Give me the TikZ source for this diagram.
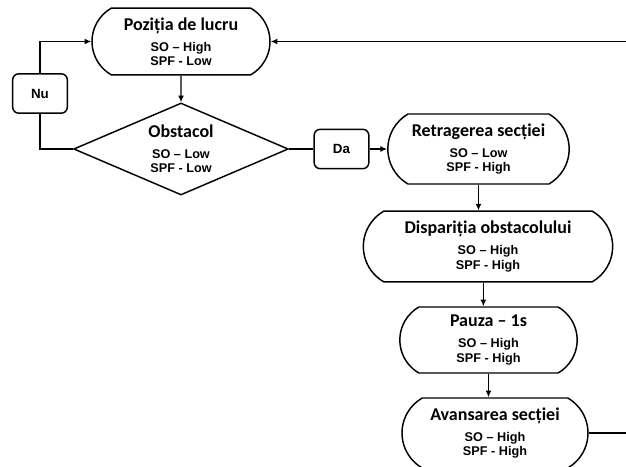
\documentclass[tikz,border=0pt]{standalone}
\usepackage{fontspec}
\usetikzlibrary{arrows.meta,positioning,shapes.geometric,shapes.misc}
\newfontfamily\calfont{Carlito}
\newfontfamily\arialfont{Liberation Sans}
\newcommand{\titf}{\calfont\bfseries\fontsize{13.5}{16}\selectfont}
\newcommand{\subf}{\arialfont\bfseries\fontsize{9.5}{10.8}\selectfont}
\newcommand{\stagetxt}[3]{{\titf #1}\\[5pt]#2\\#3}
\tikzset{
  stage/.style={draw, rounded rectangle, rounded rectangle arc length=120, line width=1.1pt, align=center, font=\subf, inner sep=0pt},
  cond/.style={draw, diamond, aspect=2.34, line width=1.1pt, align=center, font=\subf, inner sep=0pt, minimum width=161pt, minimum height=69pt},
  ans/.style={draw, rectangle, rounded corners=4.5pt, line width=1.1pt, minimum width=41pt, minimum height=29.5pt, font=\arialfont\bfseries\fontsize{10}{12}\selectfont},
  arr/.style={-{Latex[length=5pt,width=4.5pt]}, line width=1.1pt},
  ln/.style={line width=1.1pt},
}
\begin{document}
\begin{tikzpicture}[x=0.75pt, y=-0.75pt]
\clip (0,0) rectangle (626,467);

\node[stage, minimum width=133.5pt, minimum height=50pt] (pos) at (181,41.5) {\stagetxt{Poziția de lucru}{SO – High}{SPF - Low}};
\node[cond] (obst) at (181,149) {\stagetxt{Obstacol}{SO – Low}{SPF - Low}};
\node[ans] (nu) at (40,93.5) {Nu};
\node[ans] (da) at (341.5,149) {Da};

\node[stage, minimum width=136pt, minimum height=52.5pt] (retr) at (478.5,149) {\stagetxt{Retragerea secției}{SO – Low}{SPF - High}};
\node[stage, minimum width=187pt, minimum height=53pt] (disp) at (488,246.5) {\stagetxt{Dispariția obstacolului}{SO – High}{SPF - High}};
\node[stage, minimum width=133pt, minimum height=49.5pt] (pauza) at (488.5,340) {\stagetxt{Pauza – 1s}{SO – High}{SPF - High}};
\node[stage, minimum width=139.5pt, minimum height=52.5pt] (avans) at (495,433) {\stagetxt{Avansarea secției}{SO – High}{SPF - High}};

\coordinate (rtop) at (626,41.5);
\coordinate (rbot) at (626,433);

\draw[arr] (pos) -- (obst);
\draw[ln] (obst.west) -| (nu.south);
\draw[arr] (nu.north) |- (pos.west);
\draw[ln] (obst.east) -- (da.west);
\draw[arr] (da.east) -- (retr.west);
\draw[arr] (retr.south) -- (retr.south |- disp.north);
\draw[arr] ([xshift=-3.5pt]disp.south) -- ([xshift=-3.5pt]disp.south |- pauza.north);
\draw[arr] (pauza.south) -- (pauza.south |- avans.north);
\draw[ln] (avans.east) -- (rbot);
\draw[arr] (rtop) -- (pos.east);

\end{tikzpicture}
\end{document}
